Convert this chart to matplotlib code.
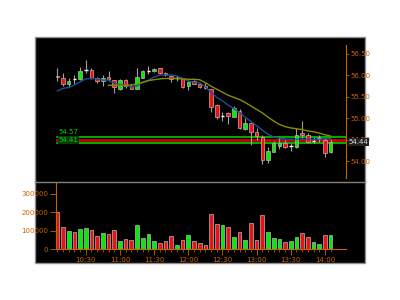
import matplotlib
matplotlib.use('Agg')
import matplotlib.pyplot as plt
import numpy as np
import pandas as pd
from matplotlib.patches import Rectangle

plt.rcParams['font.family'] = ['Liberation Sans Narrow', 'DejaVu Sans']

# 5 minute bars
times = pd.date_range('2000-01-01 10:05', periods=49, freq='5min')

opens = [55.98, 55.94, 55.80, 55.91, 55.90, 56.115, 56.12, 55.92, 55.85, 55.95,
         55.88, 55.67, 55.88, 55.75, 55.68, 55.94, 56.10, 56.09, 56.16, 56.04,
         55.97, 55.92, 55.92, 55.75, 55.85, 55.80, 55.74, 55.67, 55.30, 55.04,
         55.11, 55.03, 55.17, 54.74, 54.88, 54.67, 54.57, 54.02, 54.22, 54.35,
         54.43, 54.35, 54.33, 54.66, 54.60, 54.47, 54.53, 54.50, 54.22]
highs = [56.16, 56.04, 55.92, 56.00, 56.19, 56.35, 56.16, 55.96, 56.00, 56.09,
         55.88, 55.91, 55.91, 55.78, 56.17, 56.12, 56.21, 56.16, 56.17, 56.06,
         55.98, 55.98, 55.94, 55.86, 55.88, 55.82, 55.81, 55.68, 55.32, 55.15,
         55.15, 55.29, 55.20, 54.99, 54.89, 54.76, 54.60, 54.33, 54.47, 54.57,
         54.49, 54.43, 54.76, 54.93, 54.64, 54.57, 54.60, 54.53, 54.51]
lows = [55.85, 55.75, 55.71, 55.78, 55.88, 56.04, 55.90, 55.81, 55.75, 55.86,
        55.59, 55.65, 55.69, 55.67, 55.67, 55.92, 56.02, 56.06, 56.02, 55.98,
        55.84, 55.86, 55.70, 55.64, 55.78, 55.69, 55.67, 55.15, 54.97, 54.94,
        54.85, 55.02, 54.74, 54.72, 54.38, 54.50, 53.92, 53.95, 54.20, 54.28,
        54.30, 54.23, 54.30, 54.53, 54.43, 54.43, 54.45, 54.10, 54.18]
closes = [55.95, 55.78, 55.85, 55.905, 56.10, 56.12, 55.92, 55.86, 55.94, 55.91,
          55.71, 55.88, 55.74, 55.68, 55.96, 56.09, 56.105, 56.14, 56.04, 55.99,
          55.91, 55.925, 55.72, 55.84, 55.80, 55.72, 55.69, 55.26, 55.02, 55.045,
          55.05, 55.23, 54.76, 54.88, 54.68, 54.59, 54.02, 54.23, 54.41, 54.43,
          54.32, 54.355, 54.60, 54.60, 54.45, 54.475, 54.535, 54.18, 54.45]
volumes = [200000, 120000, 100000, 94000, 107000, 111000, 105000, 72000, 85000, 80000,
           105000, 44000, 54000, 50000, 130000, 61000, 80000, 44000, 33000, 43000,
           72000, 24000, 50000, 74000, 43000, 33000, 22000, 190000, 133000, 128000,
           120000, 65000, 90000, 50000, 139000, 46000, 183000, 90000, 59000, 54000,
           39000, 43000, 65000, 87000, 65000, 39000, 28000, 78000, 78000]

ma_fast = [55.63, 55.69, 55.71, 55.77, 55.84, 55.91, 55.92, 55.91, 55.88, 55.88,
           55.81, 55.78, 55.76, 55.72, 55.75, 55.83, 55.88, 55.95, 56.00, 56.00,
           56.00, 55.98, 55.92, 55.86, 55.83, 55.82, 55.72, 55.60, 55.48, 55.40,
           55.30, 55.22, 55.13, 55.02, 54.92, 54.82, 54.72, 54.62, 54.56, 54.53,
           54.51, 54.50, 54.50, 54.51, 54.50, 54.50, 54.51, 54.52, 54.52]
ma_slow = [np.nan] * 9 + [
           55.76, 55.76, 55.76, 55.76, 55.77, 55.79, 55.83, 55.87, 55.89, 55.91,
           55.92, 55.92, 55.92, 55.91, 55.90, 55.90, 55.89, 55.82, 55.74, 55.67,
           55.60, 55.53, 55.48, 55.43, 55.36, 55.28, 55.20, 55.12, 55.02, 54.93,
           54.85, 54.80, 54.77, 54.75, 54.73, 54.70, 54.68, 54.65, 54.61, 54.58]

level_lines = [54.57, 54.49, 54.41]
level_colors = ['#00dd00', '#cc0000', '#00dd00']
last_price = 54.44

orange = '#c86400'
x = np.arange(len(times))
up = np.array(closes) >= np.array(opens)

fig = plt.figure(figsize=(4, 3), dpi=100)
fig.patch.set_facecolor('white')
fig.patches.append(Rectangle((35 / 400, 1 - 263 / 300), 330 / 400, 226 / 300,
                             transform=fig.transFigure, facecolor='black',
                             edgecolor='#909090', linewidth=1, zorder=-10))
fig.lines.append(plt.Line2D([35 / 400, 365 / 400], [1 - 182 / 300, 1 - 182 / 300],
                            transform=fig.transFigure, color='#808080', linewidth=1))

ax = fig.add_axes([56 / 400, 1 - 178 / 300, 290 / 400, 133 / 300])
vax = fig.add_axes([56 / 400, 1 - 249 / 300, 290 / 400, 66 / 300])
xlim = (-0.23, 50.7)

# price panel
ax.set_facecolor('none')
w = 0.62
for i in x:
    ax.vlines(i, lows[i], highs[i], color='#a0a0a0', linewidth=0.8, zorder=2)
    o, c = opens[i], closes[i]
    if abs(c - o) < 0.01:
        ax.hlines(o, i - w / 2, i + w / 2, color='white', linewidth=1, zorder=3)
        continue
    color = '#00ee00' if c > o else '#ee1111'
    ax.add_patch(Rectangle((i - w / 2, min(o, c)), w, abs(c - o), facecolor=color,
                           edgecolor='#c8b0b0', linewidth=0.5, zorder=3))

ax.plot(x, ma_fast, color='#1c4f9c', linewidth=1, zorder=4)
ax.plot(x, ma_slow, color='#8c8c00', linewidth=1, zorder=4)

for lvl, col in zip(level_lines, level_colors):
    ax.axhline(lvl, xmin=0.005, color=col, linewidth=2 if col == '#cc0000' else 1.1, zorder=1)
ax.text(0.2, level_lines[0] + 0.04, '%.2f' % level_lines[0], color='#00cc00',
        fontsize=5, va='bottom', ha='left')
ax.text(0.2, level_lines[2] + 0.01, '%.2f' % level_lines[2], color='#00cc00',
        fontsize=5, va='bottom', ha='left',
        bbox=dict(boxstyle='square,pad=0.1', facecolor='#0a3a0a', edgecolor='none'))

ax.set_xlim(xlim)
ax.set_ylim(53.605, 56.698)
ax.set_yticks(np.arange(54.0, 56.51, 0.5))
ax.yaxis.set_major_formatter(matplotlib.ticker.FormatStrFormatter('%.2f'))
ax.yaxis.tick_right()
ax.tick_params(axis='y', colors=orange, labelsize=5, length=2, width=0.6, pad=1.5)
ax.set_xticks([])
for s in ['top', 'left', 'bottom']:
    ax.spines[s].set_visible(False)
ax.spines['right'].set_color(orange)
ax.spines['right'].set_linewidth(0.8)
ax.text(1.01, last_price, '%.2f' % last_price, transform=ax.get_yaxis_transform(),
        color='#dddddd', fontsize=5, va='center', ha='left',
        bbox=dict(boxstyle='square,pad=0.1', facecolor='#202020', edgecolor='none'))

# volume panel
vax.set_facecolor('none')
vcolors = ['#00ee00' if u else '#ee1111' for u in up]
vax.bar(x, volumes, width=0.65, color=vcolors, edgecolor='#b8b8b8', linewidth=0.5)
vax.set_xlim(xlim)
vax.set_ylim(0, 357000)
vax.set_yticks([0, 100000, 200000, 300000])
vax.yaxis.set_major_formatter(matplotlib.ticker.FormatStrFormatter('%d'))
major = [i for i in x if times[i].minute % 30 == 0]
vax.set_xticks(major)
vax.set_xticklabels([times[i].strftime('%H:%M') for i in major])
vax.set_xticks(x, minor=True)
vax.tick_params(axis='both', which='major', colors=orange, labelsize=5, length=4, width=0.6, pad=1.5)
vax.tick_params(axis='x', which='minor', colors=orange, length=2, width=0.5)
for s in ['top', 'right']:
    vax.spines[s].set_visible(False)
vax.spines['left'].set_color(orange)
vax.spines['bottom'].set_color(orange)
vax.spines['left'].set_linewidth(0.8)
vax.spines['bottom'].set_linewidth(0.8)

plt.savefig('out.png', dpi=100)
